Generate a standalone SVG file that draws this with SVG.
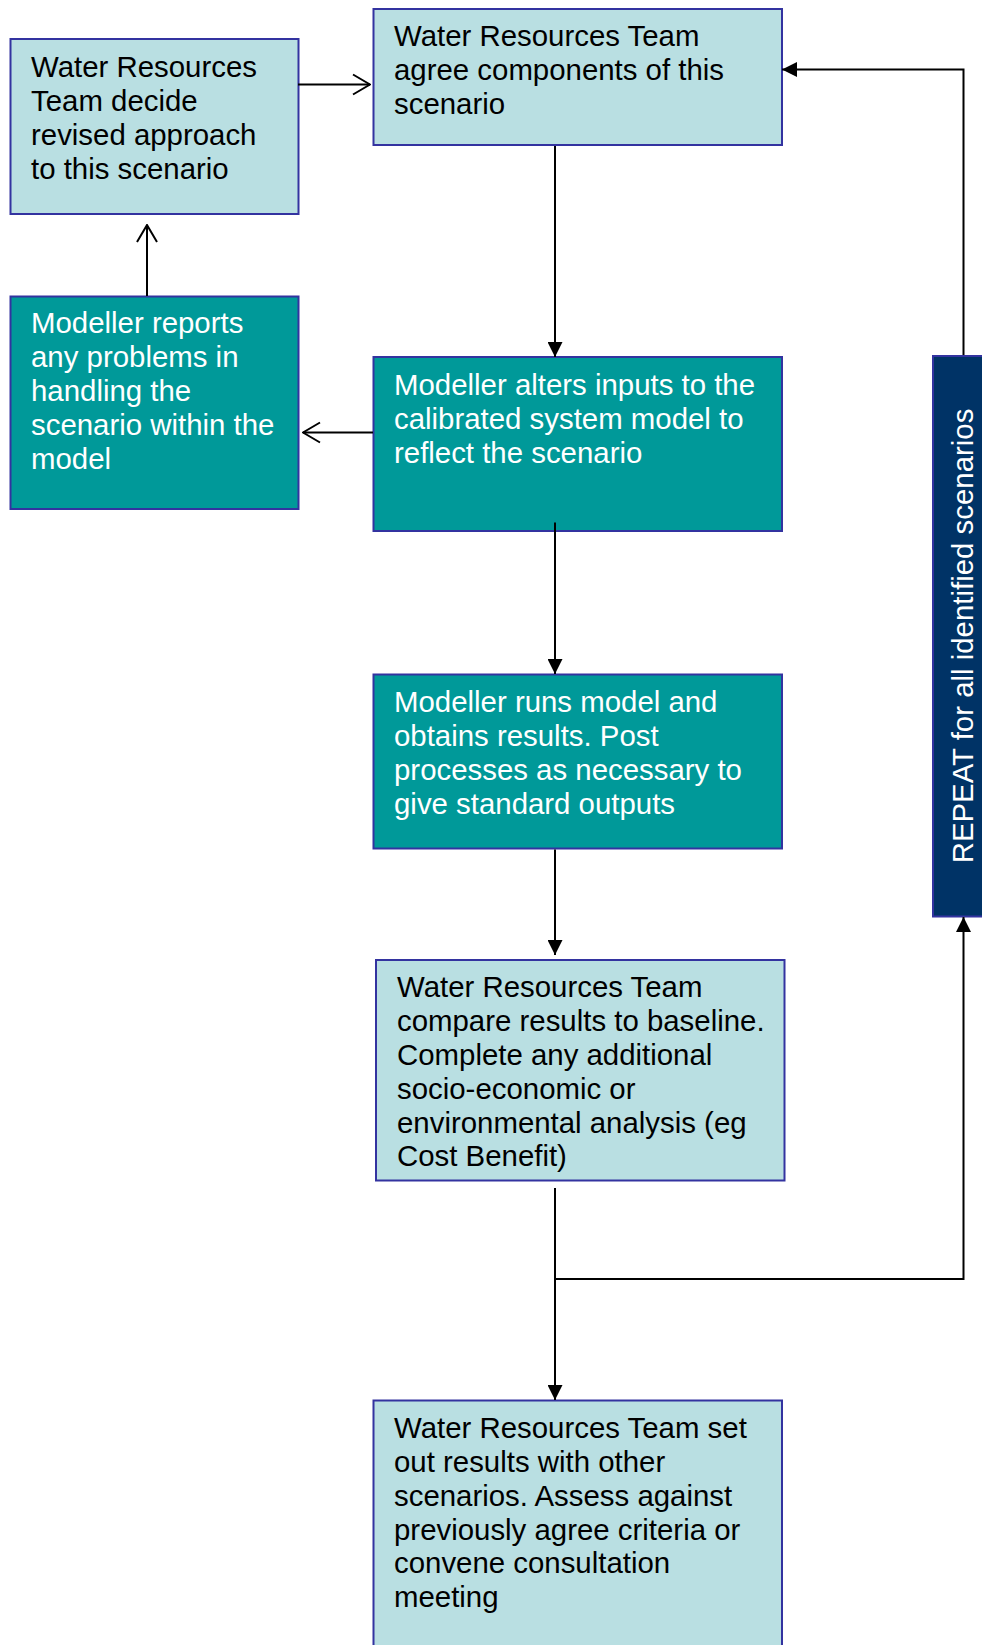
<svg xmlns="http://www.w3.org/2000/svg" width="982" height="1645" viewBox="0 0 982 1645">
  <style>
    .box { stroke: #3333a0; stroke-width: 2; }
    .light { fill: #b9dfe2; }
    .teal { fill: #009999; }
    .navy { fill: #003366; }
    .lbl { font-family: "Liberation Sans", Arial, sans-serif; font-size: 29.4px; }
    .dark { fill: #000000; }
    .white { fill: #ffffff; }
    .conn { fill: none; stroke: #000000; stroke-width: 2; }
  </style>
  <defs>
    <marker id="tri" viewBox="0 0 15 15" refX="15" refY="7.5" markerWidth="15" markerHeight="15" markerUnits="userSpaceOnUse" orient="auto">
      <path d="M0,0 L15,7.5 L0,15 z" fill="#000000"/>
    </marker>
    <marker id="vee" viewBox="0 0 19 23" refX="18" refY="11.5" markerWidth="19" markerHeight="23" markerUnits="userSpaceOnUse" orient="auto">
      <path d="M1,1.5 L18,11.5 L1,21.5" fill="none" stroke="#000000" stroke-width="2"/>
    </marker>
  </defs>

  <rect width="982" height="1645" fill="#ffffff"/>

  <!-- revised approach -->
  <g id="node-revise">
    <rect class="box light" x="10.5" y="39" width="288" height="175"/>
    <text class="lbl dark">
      <tspan x="31" y="77">Water Resources</tspan>
      <tspan x="31" y="111">Team decide</tspan>
      <tspan x="31" y="145">revised approach</tspan>
      <tspan x="31" y="178.5">to this scenario</tspan>
    </text>
  </g>

  <!-- agree components -->
  <g id="node-agree">
    <rect class="box light" x="373.5" y="9" width="408.5" height="136"/>
    <text class="lbl dark">
      <tspan x="394" y="46">Water Resources Team</tspan>
      <tspan x="394" y="80">agree components of this</tspan>
      <tspan x="394" y="113.5">scenario</tspan>
    </text>
  </g>

  <!-- problems report -->
  <g id="node-problems">
    <rect class="box teal" x="10.5" y="296.5" width="288" height="212.5"/>
    <text class="lbl white">
      <tspan x="31" y="333">Modeller reports</tspan>
      <tspan x="31" y="367">any problems in</tspan>
      <tspan x="31" y="401">handling the</tspan>
      <tspan x="31" y="435">scenario within the</tspan>
      <tspan x="31" y="469">model</tspan>
    </text>
  </g>

  <!-- alter inputs -->
  <g id="node-alter">
    <rect class="box teal" x="373.5" y="357" width="408.5" height="174"/>
    <text class="lbl white">
      <tspan x="394" y="395">Modeller alters inputs to the</tspan>
      <tspan x="394" y="429">calibrated system model to</tspan>
      <tspan x="394" y="462.5">reflect the scenario</tspan>
    </text>
  </g>

  <!-- run model -->
  <g id="node-run">
    <rect class="box teal" x="373.5" y="674.5" width="408.5" height="174"/>
    <text class="lbl white">
      <tspan x="394" y="712">Modeller runs model and</tspan>
      <tspan x="394" y="746">obtains results. Post</tspan>
      <tspan x="394" y="780">processes as necessary to</tspan>
      <tspan x="394" y="814">give standard outputs</tspan>
    </text>
  </g>

  <!-- compare results -->
  <g id="node-compare">
    <rect class="box light" x="376" y="960" width="408.5" height="220.5"/>
    <text class="lbl dark">
      <tspan x="397" y="997">Water Resources Team</tspan>
      <tspan x="397" y="1031">compare results to baseline.</tspan>
      <tspan x="397" y="1065">Complete any additional</tspan>
      <tspan x="397" y="1099">socio-economic or</tspan>
      <tspan x="397" y="1132.5">environmental analysis (eg</tspan>
      <tspan x="397" y="1166">Cost Benefit)</tspan>
    </text>
  </g>

  <!-- set out results -->
  <g id="node-setout">
    <rect class="box light" x="373.5" y="1400.5" width="408.5" height="270"/>
    <text class="lbl dark">
      <tspan x="394" y="1437.5">Water Resources Team set</tspan>
      <tspan x="394" y="1471.5">out results with other</tspan>
      <tspan x="394" y="1505.5">scenarios. Assess against</tspan>
      <tspan x="394" y="1539.5">previously agree criteria or</tspan>
      <tspan x="394" y="1573">convene consultation</tspan>
      <tspan x="394" y="1606.5">meeting</tspan>
    </text>
  </g>

  <!-- repeat loop bar -->
  <g id="node-repeat">
    <rect class="box navy" x="933" y="356" width="70" height="560.5"/>
    <text class="lbl white" text-anchor="middle" transform="translate(973,636) rotate(-90)">REPEAT for all identified scenarios</text>
  </g>

  <!-- connectors, drawn over the boxes -->
  <g id="connectors">
    <path class="conn" d="M298,84.5 H370" marker-end="url(#vee)"/>
    <path class="conn" d="M147,296 V225" marker-end="url(#vee)"/>
    <path class="conn" d="M373,432.5 H303" marker-end="url(#vee)"/>
    <path class="conn" d="M555,146 V357" marker-end="url(#tri)"/>
    <path class="conn" d="M555,522.5 V674" marker-end="url(#tri)"/>
    <path class="conn" d="M555,849.5 V955" marker-end="url(#tri)"/>
    <path class="conn" d="M555,1188 V1400" marker-end="url(#tri)"/>
    <path class="conn" d="M555,1279 H963.5 V917" marker-end="url(#tri)"/>
    <path class="conn" d="M963.5,355 V69.5 H782" marker-end="url(#tri)"/>
  </g>
</svg>
